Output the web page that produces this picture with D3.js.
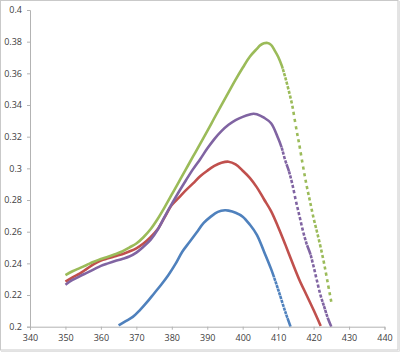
<!DOCTYPE html>
<html>
<head>
<meta charset="utf-8">
<script src="https://d3js.org/d3.v7.min.js"></script>
<style>
  body { margin: 0; background: #fff; }
</style>
</head>
<body>
<script>
// values (wavelength, absorbance)
const blueX  = [365, 367, 369, 371, 373, 375, 377, 379, 381, 383, 385, 387, 389, 391, 393, 395, 396, 398, 400, 402, 404, 406, 408, 410, 412, 413.5];
const blueY  = [0.2008, 0.2035, 0.2062, 0.2105, 0.2155, 0.221, 0.2265, 0.2325, 0.2395, 0.2475, 0.2535, 0.2595, 0.2655, 0.2695, 0.2725, 0.2735, 0.2733, 0.272, 0.2695, 0.2645, 0.258, 0.2475, 0.2365, 0.2235, 0.2095, 0.2];

const redX   = [350, 352, 354, 356, 358, 360, 362, 364, 366, 368, 370, 372, 374, 376, 378, 380, 382, 384, 386, 388, 390, 392, 394, 396, 398, 400, 402, 404, 406, 408, 410, 412, 414, 416, 418, 420, 422];
const redY   = [0.2285, 0.2312, 0.2335, 0.2365, 0.2395, 0.2418, 0.2432, 0.2445, 0.2458, 0.2475, 0.2495, 0.2525, 0.2565, 0.2615, 0.2692, 0.2768, 0.2815, 0.2862, 0.2905, 0.295, 0.2985, 0.3015, 0.3035, 0.3042, 0.3025, 0.2985, 0.294, 0.288, 0.2805, 0.273, 0.263, 0.252, 0.2405, 0.2295, 0.22, 0.2105, 0.2005];

const greenX = [350, 352, 354, 356, 358, 360, 362, 364, 366, 368, 370, 372, 374, 376, 378, 380, 382, 384, 386, 388, 390, 392, 394, 396, 398, 400, 402, 404, 405, 406, 407, 408, 409, 410, 411, 412, 413, 414, 415, 416, 417, 418, 419, 420, 421, 422, 423, 424, 425];
const greenY = [0.2325, 0.235, 0.237, 0.239, 0.241, 0.2428, 0.2442, 0.2458, 0.2475, 0.25, 0.2525, 0.2565, 0.2615, 0.268, 0.2755, 0.2835, 0.2915, 0.2995, 0.3075, 0.3155, 0.3235, 0.3318, 0.34, 0.348, 0.356, 0.3635, 0.3705, 0.3755, 0.3778, 0.379, 0.3792, 0.378, 0.3745, 0.3705, 0.365, 0.3575, 0.349, 0.3395, 0.3265, 0.3145, 0.3015, 0.2895, 0.279, 0.2685, 0.2595, 0.25, 0.2395, 0.2275, 0.2155];

const purpleX = [350, 352, 354, 356, 358, 360, 362, 364, 366, 368, 370, 372, 374, 376, 378, 380, 382, 384, 386, 388, 390, 392, 394, 396, 398, 400, 402, 403, 404, 406, 408, 410, 411, 412, 413, 414, 415, 416, 417, 418, 419, 420, 421, 422, 423, 424, 425];
const purpleY = [0.2265, 0.2295, 0.2318, 0.234, 0.2362, 0.2384, 0.24, 0.2415, 0.2428, 0.2443, 0.2468, 0.2505, 0.2548, 0.2612, 0.2695, 0.2775, 0.2852, 0.2925, 0.2995, 0.3058, 0.3125, 0.3185, 0.3235, 0.3275, 0.3305, 0.3325, 0.334, 0.3345, 0.3342, 0.332, 0.3285, 0.319, 0.313, 0.305, 0.2985, 0.29, 0.2795, 0.27, 0.2605, 0.2525, 0.2465, 0.238, 0.2285, 0.2195, 0.2125, 0.2055, 0.2];

const xTicks = [340, 350, 360, 370, 380, 390, 400, 410, 420, 430, 440];
const yTicks = [0.2, 0.22, 0.24, 0.26, 0.28, 0.3, 0.32, 0.34, 0.36, 0.38, 0.4];

const series = [
  {xs: blueX,   ys: blueY,   color: "#4F81BD"},
  {xs: redX,    ys: redY,    color: "#C0504D"},
  {xs: purpleX, ys: purpleY, color: "#8064A2"},
  {xs: greenX,  ys: greenY,  color: "#9BBB59"}
];

const width = 400, height = 352;
const mLeft = 30, mRight = 384.5, mTop = 10, mBottom = 326.7;

const svg = d3.select("body").append("svg")
  .attr("width", width)
  .attr("height", height);

// chart frame
svg.append("rect")
  .attr("x", 0.5).attr("y", 0.5)
  .attr("width", 397.5).attr("height", 349.5)
  .style("fill", "#fff")
  .style("stroke", "#c9c9c9");
svg.append("path")
  .attr("d", "M399.5,1V351.5H1")
  .style("fill", "none")
  .style("stroke", "#e2e2e2");

const x = d3.scaleLinear().domain([340, 440]).range([mLeft, mRight]);
const y = d3.scaleLinear().domain([0.2, 0.4]).range([mBottom, mTop]);

// axes
const xAxis = svg.append("g")
  .attr("transform", `translate(0,${mBottom})`)
  .call(d3.axisBottom(x).tickValues(xTicks).tickSize(3).tickPadding(5).tickFormat(d3.format("d")));
const yAxis = svg.append("g")
  .attr("transform", `translate(${mLeft},0)`)
  .call(d3.axisLeft(y).tickValues(yTicks).tickSize(3).tickPadding(5).tickFormat(d => d3.format("~g")(d)));

[xAxis, yAxis].forEach(g => {
  g.select(".domain").style("stroke", "#b3b3b3");
  g.selectAll(".tick line").style("stroke", "#b3b3b3");
  g.selectAll("text").style("font-family", "'Open Sans', 'Liberation Sans', sans-serif")
    .style("font-size", "9px").style("fill", "#404040");
});

svg.append("clipPath").attr("id", "plot")
  .append("rect")
  .attr("x", mLeft).attr("y", mTop - 3)
  .attr("width", mRight - mLeft).attr("height", mBottom - mTop + 3);

const line = d3.line()
  .x(d => x(d[0]))
  .y(d => y(d[1]))
  .curve(d3.curveCatmullRom);

// dense markers look: solid where the curve is flat, broken where it is steep
const markStep = 1.2, markSize = 3.2;
function dashFor(node) {
  const total = node.getTotalLength();
  const arr = [];
  let s = 0, run = 0;
  while (s < total) {
    const p1 = node.getPointAtLength(s);
    const p2 = node.getPointAtLength(Math.min(total, s + 1));
    const r = Math.abs(p2.y - p1.y) / Math.max(1e-6, Math.abs(p2.x - p1.x));
    const period = markStep * Math.sqrt(1 + r * r);
    if (period <= markSize + 0.4) { run += 1; s += 1; }
    else { arr.push(run + markSize, period - markSize); run = 0; s += period; }
  }
  arr.push(run + markSize, total);
  return arr.map(v => v.toFixed(2)).join(",");
}

const plot = svg.append("g").attr("clip-path", "url(#plot)");

plot.selectAll("path.series")
  .data(series)
  .join("path")
    .attr("class", "series")
    .attr("d", s => line(d3.zip(s.xs, s.ys)))
    .style("fill", "none")
    .style("stroke", s => s.color)
    .style("stroke-width", 2.6)
    .each(function() { d3.select(this).style("stroke-dasharray", dashFor(this)); });
</script>
</body>
</html>
